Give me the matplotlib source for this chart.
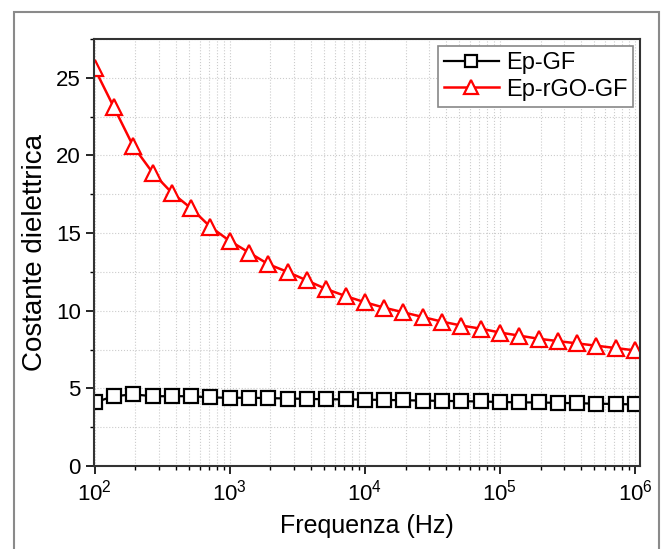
import matplotlib.pyplot as plt
from matplotlib.patches import Rectangle
from matplotlib.ticker import MultipleLocator, LogLocator, NullFormatter

plt.rcParams['font.family'] = ['Liberation Sans', 'DejaVu Sans']

# frequencies: 7 points per decade, 10^2 .. 10^6
freq = [10 ** (2 + i / 7) for i in range(29)]

ep_gf = [4.1, 4.5, 4.62, 4.5, 4.5, 4.5, 4.42, 4.4, 4.4, 4.38, 4.35, 4.33, 4.3,
         4.3, 4.28, 4.26, 4.24, 4.22, 4.2, 4.18, 4.16, 4.13, 4.1, 4.1, 4.07,
         4.05, 4.02, 4.0, 3.97]
ep_rgo_gf = [25.6, 23.1, 20.6, 18.9, 17.6, 16.6, 15.4, 14.5, 13.75, 13.0, 12.5,
             11.95, 11.4, 10.95, 10.55, 10.2, 9.9, 9.6, 9.3, 9.05, 8.85, 8.6,
             8.4, 8.2, 8.05, 7.9, 7.75, 7.6, 7.45]

fig = plt.figure(figsize=(6.62, 5.49), dpi=100)
ax = fig.add_axes([0.142, 0.151, 0.825, 0.778])

# outer gray frame
fig.patches.append(Rectangle((14 / 662, -0.1), 645 / 662, 1.1 - 12 / 549,
                             transform=fig.transFigure, fill=False,
                             edgecolor='#8a8a8a', linewidth=1.5))

ax.plot(freq, ep_gf, color='black', marker='s', markersize=10,
        markerfacecolor='white', markeredgecolor='black', markeredgewidth=1.6,
        linewidth=1.6, label='Ep-GF')
ax.plot(freq, ep_rgo_gf, color='red', marker='^', markersize=11.5,
        markerfacecolor='white', markeredgecolor='red', markeredgewidth=1.6,
        linewidth=1.8, label='Ep-rGO-GF')

ax.set_xscale('log')
ax.set_xlim(99, 1.09e6)
ax.set_ylim(0, 27.5)
ax.yaxis.set_major_locator(MultipleLocator(5))
ax.yaxis.set_minor_locator(MultipleLocator(2.5))
ax.xaxis.set_major_locator(LogLocator(base=10, numticks=10))
ax.xaxis.set_minor_locator(LogLocator(base=10, subs=range(2, 10), numticks=100))
ax.xaxis.set_minor_formatter(NullFormatter())

ax.grid(True, which='both', linestyle=':', color='#cccccc', linewidth=0.8)
ax.set_axisbelow(True)

ax.tick_params(which='major', direction='out', length=6, width=1.2, labelsize=16)
ax.tick_params(which='minor', direction='out', length=3, width=1)
for s in ax.spines.values():
    s.set_linewidth(1.5)
    s.set_color('#333333')

ax.set_xlabel('Frequenza (Hz)', fontsize=18, labelpad=6)
ax.set_ylabel('Costante dielettrica', fontsize=20, labelpad=6)

leg = ax.legend(loc='upper right', fontsize=17, fancybox=False,
                edgecolor='#888888', framealpha=1, handlelength=2.3,
                borderpad=0.25, labelspacing=0.2, handletextpad=0.3,
                borderaxespad=0.3, markerscale=0.85)
leg.get_frame().set_linewidth(1.2)

fig.savefig('out.png', dpi=100)
